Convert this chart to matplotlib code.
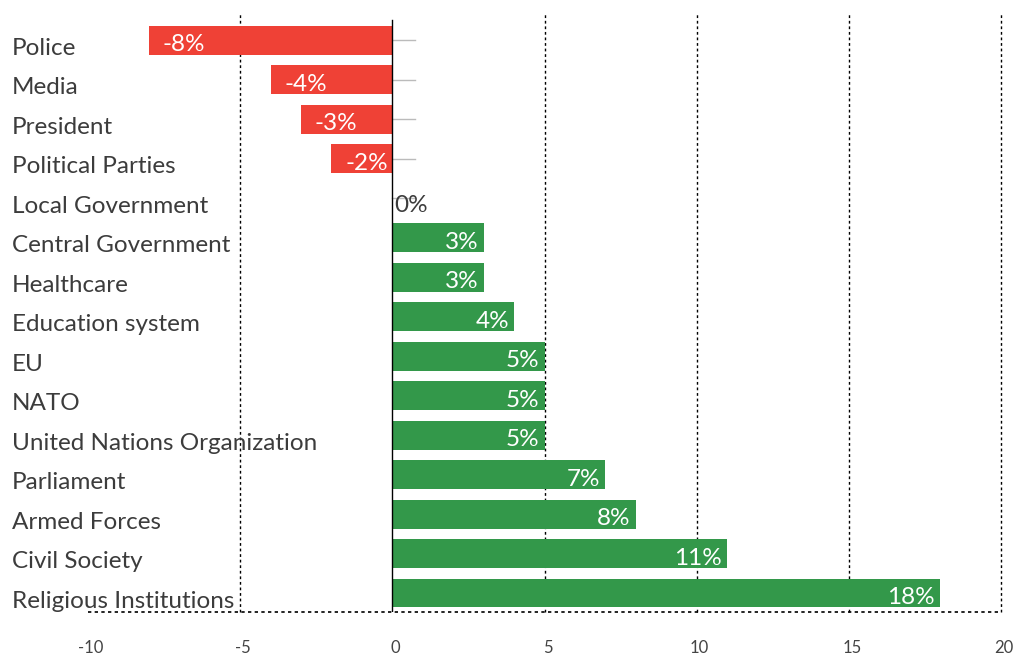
import matplotlib.pyplot as plt
import matplotlib.transforms as mtransforms
import numpy as np

# Net trust by institution (percentage points)
institutions = ['Police', 'Media', 'President', 'Political Parties', 'Local Government',
                'Central Government', 'Healthcare', 'Education system', 'EU', 'NATO',
                'United Nations Organization', 'Parliament', 'Armed Forces',
                'Civil Society', 'Religious Institutions']
net_trust = [-8, -4, -3, -2, 0, 3, 3, 4, 5, 5, 5, 7, 8, 11, 18]
x_ticks = [-10, -5, 0, 5, 10, 15, 20]

RED = '#ef4136'
GREEN = '#33984a'
TEXT = '#3c3c3c'

plt.rcParams['font.family'] = ['Lato', 'DejaVu Sans']

fig = plt.figure(figsize=(10.14, 6.56), dpi=100)
ax = fig.add_axes([88 / 1014, 1 - 612 / 656, 913 / 1014, 600 / 656])

y = np.arange(len(institutions))
bottom = len(institutions) - 1 + 0.48
colors = [RED if v < 0 else GREEN for v in net_trust]
ax.barh(y, net_trust, height=0.73, color=colors, zorder=2)

ax.set_xlim(-10, 20)
ax.set_ylim(bottom, -0.72)

# dotted grid and frame
for t in x_ticks:
    if t in (0, -10):
        continue
    ax.axvline(t, color='black', lw=1, linestyle=(0, (2, 2)), zorder=1, clip_on=False)
ax.axhline(bottom, color='black', lw=1.2, linestyle=(0, (2, 2)), zorder=1, clip_on=False)
ax.plot([0, 0], [-0.52, bottom], color='black', lw=1, zorder=3)

# short gray ticks next to the zero line for non-positive rows
for yi, v in zip(y, net_trust):
    if v <= 0:
        ax.plot([0, 0.75], [yi, yi], color='#bbbbbb', lw=1, zorder=1)

# value labels
for yi, v in zip(y, net_trust):
    if v < 0:
        ax.text(v + 0.45, yi + 0.28, f'{v}%', ha='left', va='baseline', color='white',
                fontsize=17.5, zorder=4)
    elif v == 0:
        ax.text(0.05, yi + 0.34, f'{v}%', ha='left', va='baseline', color=TEXT,
                fontsize=17.5, zorder=4)
    else:
        ax.text(v - 0.17, yi + 0.28, f'{v}%', ha='right', va='baseline', color='white',
                fontsize=17.5, zorder=4)

# category labels, left aligned
for yi, name in zip(y, institutions):
    ax.text(-76 / 913, yi + 0.37, name, transform=ax.get_yaxis_transform(),
            ha='left', va='baseline', color=TEXT, fontsize=17.5, clip_on=False)

ax.set_yticks([])
ax.set_xticks(x_ticks)
ax.set_xticklabels([str(t) for t in x_ticks], color='#444444', fontsize=12)
ax.tick_params(axis='x', length=0, pad=20)
shift = mtransforms.ScaledTranslation(3 / 100, 0, fig.dpi_scale_trans)
for lbl in ax.get_xticklabels():
    lbl.set_transform(lbl.get_transform() + shift)
for s in ax.spines.values():
    s.set_visible(False)

fig.savefig('out.png', dpi=100)
